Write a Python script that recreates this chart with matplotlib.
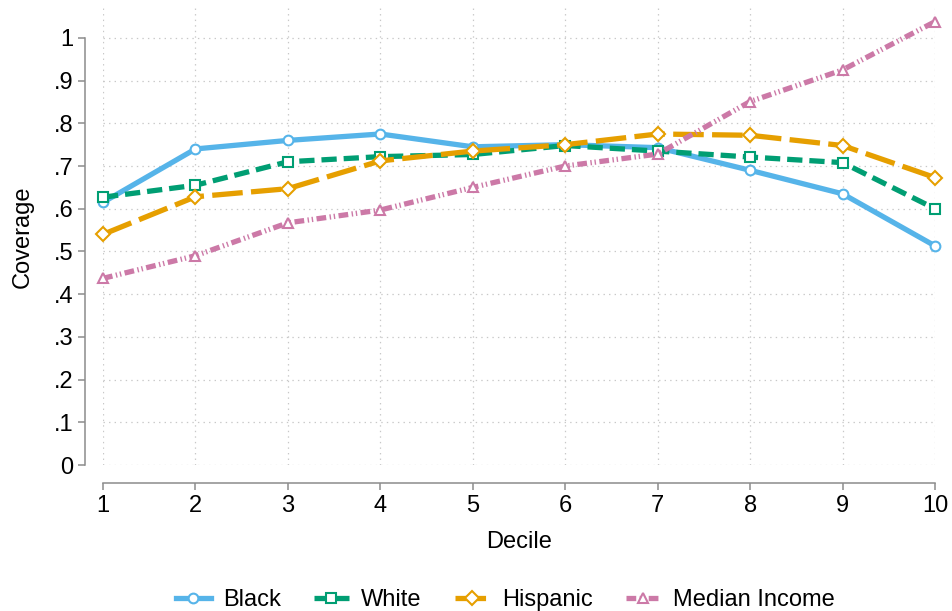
import numpy as np
import matplotlib
matplotlib.use("Agg")
import matplotlib.pyplot as plt

plt.rcParams['font.family'] = ['Liberation Sans', 'DejaVu Sans']
plt.rcParams['lines.scale_dashes'] = False

# data
deciles = [1, 2, 3, 4, 5, 6, 7, 8, 9, 10]
black = [0.615, 0.740, 0.760, 0.775, 0.745, 0.750, 0.743, 0.690, 0.635, 0.513]
white = [0.627, 0.655, 0.710, 0.722, 0.727, 0.748, 0.735, 0.721, 0.708, 0.600]
hispanic = [0.540, 0.628, 0.647, 0.712, 0.735, 0.750, 0.775, 0.772, 0.748, 0.673]
median_income = [0.437, 0.490, 0.567, 0.597, 0.650, 0.700, 0.728, 0.851, 0.925, 1.038]

y_ticks = [0, 0.1, 0.2, 0.3, 0.4, 0.5, 0.6, 0.7, 0.8, 0.9, 1.0]
y_labels = ['0', '.1', '.2', '.3', '.4', '.5', '.6', '.7', '.8', '.9', '1']

fig = plt.figure(figsize=(9.53, 6.11), dpi=100)
ax = fig.add_axes([103/953, 146/611, 832/953, 457/611])

lw = 3.8
ax.plot(deciles, black, color='#56B4E9', lw=lw, marker='o', ms=7, mfc='white',
        mew=1.5, label='Black', clip_on=False, zorder=3)
ax.plot(deciles, white, color='#009E73', lw=lw, marker='s', ms=7, mfc='white',
        mew=1.5, dashes=(11, 5), label='White', clip_on=False, zorder=3)
ax.plot(deciles, hispanic, color='#E69F00', lw=lw, marker='D', ms=7, mfc='white',
        mew=1.5, dashes=(22, 6), label='Hispanic', clip_on=False, zorder=3)
ax.plot(deciles, median_income, color='#CC79A7', lw=lw, marker='^', ms=7, mfc='white',
        mew=1.5, dashes=(7, 2.5, 1, 2, 1, 2.5), label='Median Income', clip_on=False, zorder=3)

ax.set_xlim(1, 10)
ax.set_ylim(0, 1.07)
ax.set_xticks(deciles)
ax.set_yticks(y_ticks)
ax.set_yticklabels(y_labels)

ax.grid(True, color='#c8c8c8', linestyle=(0, (1, 3)), lw=0.9)
ax.set_axisbelow(True)

for s in ['top', 'right']:
    ax.spines[s].set_visible(False)
ax.spines['left'].set_position(('outward', 13))
ax.spines['bottom'].set_position(('outward', 13))
ax.spines['left'].set_bounds(0, 1)
ax.spines['bottom'].set_bounds(1, 10)
for s in ['left', 'bottom']:
    ax.spines[s].set_color('#8c8c8c')
    ax.spines[s].set_linewidth(1.1)
ax.tick_params(axis='both', colors='#8c8c8c', labelcolor='black', labelsize=17,
               length=5, width=1.1)

ax.set_xlabel('Decile', fontsize=17, labelpad=10)
ax.set_ylabel('Coverage', fontsize=17, labelpad=14)

fig.legend(loc='lower center', bbox_to_anchor=(0.53, -0.035), ncol=4, frameon=False,
           fontsize=17, handlelength=1.5, columnspacing=1.4, handletextpad=0.5)

fig.savefig('out.png', dpi=100)
